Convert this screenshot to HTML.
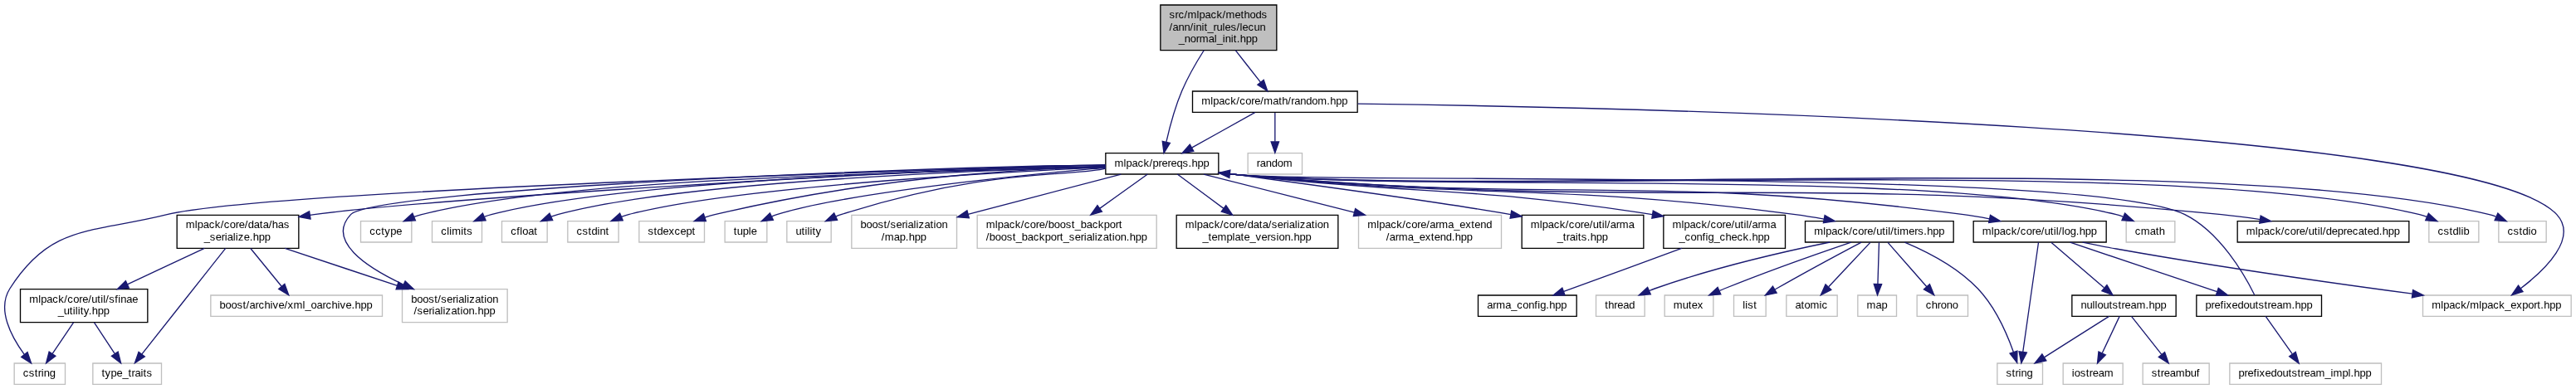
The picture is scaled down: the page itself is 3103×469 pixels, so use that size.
<!DOCTYPE html>
<html><head><meta charset="utf-8"><title>src/mlpack/methods/ann/init_rules/lecun_normal_init.hpp include dependency graph</title>
<style>
html,body{margin:0;padding:0;background:#fff;width:3103px;height:469px;overflow:hidden;}
svg{display:block;}
.e{fill:none;stroke:#191970;stroke-width:1;}
.h{fill:#191970;stroke:#191970;stroke-width:1;}
.t text{font-family:"Liberation Sans",sans-serif;font-size:13px;fill:#000;}
svg{will-change:transform;}
</style></head><body>
<svg width="3103" height="469" viewBox="0 0 3103 469">
<rect width="3103" height="469" fill="#fff"/>
<g transform="matrix(1.333333,0,0,1.333333,5.333333,464)">
<polygon fill="#bfbfbf" stroke="#000" points="1044.38,-302.5 1044.38,-343.5 1149.38,-343.5 1149.38,-302.5 1044.38,-302.5"/>
<polygon fill="#fff" stroke="#000" points="994.88,-190.5 994.88,-209.5 1096.88,-209.5 1096.88,-190.5 994.88,-190.5"/>
<path class="e" d="M1083.64,-302.45C1077,-291.99 1069.25,-278.67 1063.88,-266 1057.44,-250.84 1052.65,-232.72 1049.63,-219.47"/>
<polygon class="h" points="1053.04,-218.69 1047.52,-209.65 1046.2,-220.17 1053.04,-218.69"/>
<polygon fill="#fff" stroke="#000" points="1073.38,-246.5 1073.38,-265.5 1222.38,-265.5 1222.38,-246.5 1073.38,-246.5"/>
<path class="e" d="M1112.18,-302.5C1119.4,-293.3 1127.92,-282.44 1134.83,-273.63"/>
<polygon class="h" points="1137.67,-275.68 1141.09,-265.65 1132.16,-271.36 1137.67,-275.68"/>
<polygon fill="#fff" stroke="#bfbfbf" points="1916.88,-129 1916.88,-148 1960.88,-148 1960.88,-129 1916.88,-129"/>
<path class="e" d="M1097.06,-191.74C1102.73,-191.08 1108.42,-190.48 1113.88,-190 1289.81,-174.4 1736.37,-196.23 1907.88,-154 1909.87,-153.51 1911.88,-152.89 1913.88,-152.18"/>
<polygon class="h" points="1915.68,-155.22 1923.54,-148.12 1912.97,-148.77 1915.68,-155.22"/>
<polygon fill="#fff" stroke="#bfbfbf" points="2190.38,-129 2190.38,-148 2235.38,-148 2235.38,-129 2190.38,-129"/>
<path class="e" d="M1097.06,-191.68C1102.72,-191.03 1108.42,-190.45 1113.88,-190 1350.53,-170.4 1950.97,-209.43 2181.88,-154 2184.08,-153.47 2186.32,-152.78 2188.53,-151.98"/>
<polygon class="h" points="2190.04,-155.14 2197.87,-148 2187.3,-148.7 2190.04,-155.14"/>
<polygon fill="#fff" stroke="#bfbfbf" points="2253.38,-129 2253.38,-148 2296.38,-148 2296.38,-129 2253.38,-129"/>
<path class="e" d="M1097.06,-191.67C1102.72,-191.02 1108.42,-190.45 1113.88,-190 1364.5,-169.48 2000.68,-214.02 2244.88,-154 2246.86,-153.51 2248.86,-152.89 2250.84,-152.17"/>
<polygon class="h" points="2252.61,-155.21 2260.38,-148.01 2249.82,-148.79 2252.61,-155.21"/>
<polygon fill="#fff" stroke="#bfbfbf" points="8.88,-0.5 8.88,-19.5 54.88,-19.5 54.88,-0.5 8.88,-0.5"/>
<path class="e" d="M994.61,-199.05C965.26,-198.47 239.36,-177.17 146.88,-154.00 79.18,-137.04 42.24,-145.94 4.88,-87.00 -7.02,-68.24 6.20,-43.55 17.97,-27.48"/>
<polygon class="h" points="20.78,-29.56 24.19,-19.53 15.27,-25.25 20.78,-29.56"/>
<polygon fill="#fff" stroke="#bfbfbf" points="321.88,-129 321.88,-148 367.88,-148 367.88,-129 321.88,-129"/>
<path class="e" d="M994.61,-197.92C868.13,-191.26 521.55,-190.66 376.88,-154.00 374.67,-153.44 372.42,-152.74 370.19,-151.95"/>
<polygon class="h" points="371.33,-148.63 360.75,-148.04 368.65,-155.1 371.33,-148.63"/>
<polygon fill="#fff" stroke="#bfbfbf" points="386.38,-129 386.38,-148 431.38,-148 431.38,-129 386.38,-129"/>
<path class="e" d="M994.61,-197.55C874.66,-195.72 557.39,-184.71 439.88,-154.00 437.89,-153.48 435.88,-152.84 433.89,-152.12"/>
<polygon class="h" points="434.81,-148.7 424.23,-148.03 432.07,-155.15 434.81,-148.7"/>
<polygon fill="#fff" stroke="#bfbfbf" points="449.38,-129 449.38,-148 490.38,-148 490.38,-129 449.38,-129"/>
<path class="e" d="M994.61,-197.18C972.50,-196.62 624.63,-188.26 499.88,-154.00 497.95,-153.47 496.00,-152.83 494.06,-152.10"/>
<polygon class="h" points="495.28,-148.81 484.72,-148 492.47,-155.22 495.28,-148.81"/>
<polygon fill="#fff" stroke="#bfbfbf" points="508.88,-129 508.88,-148 554.88,-148 554.88,-129 508.88,-129"/>
<path class="e" d="M994.61,-196.80C992.28,-196.51 676.20,-183.64 563.88,-154.00 561.72,-153.43 559.53,-152.72 557.35,-151.94"/>
<polygon class="h" points="558.68,-148.7 548.1,-148.11 556,-155.17 558.68,-148.7"/>
<polygon fill="#fff" stroke="#bfbfbf" points="573.38,-129 573.38,-148 632.38,-148 632.38,-129 573.38,-129"/>
<path class="e" d="M994.61,-196.42C953.07,-196.42 803.67,-192.29 641.88,-154.00 638.88,-153.29 635.80,-152.41 632.75,-151.44"/>
<polygon class="h" points="633.82,-148.11 623.23,-148.14 631.53,-154.72 633.82,-148.11"/>
<polygon fill="#fff" stroke="#bfbfbf" points="650.88,-129 650.88,-148 688.88,-148 688.88,-129 650.88,-129"/>
<path class="e" d="M994.61,-196.05C984.56,-196.05 771.22,-176.95 697.88,-154.00 696.41,-153.54 694.92,-153.01 693.44,-152.42"/>
<polygon class="h" points="694.54,-149.07 684,-148.03 691.59,-155.42 694.54,-149.07"/>
<polygon fill="#fff" stroke="#bfbfbf" points="706.88,-129 706.88,-148 746.88,-148 746.88,-129 706.88,-129"/>
<path class="e" d="M994.61,-195.60C968.17,-188.13 891.10,-197.14 755.88,-154.00 754.25,-153.48 752.61,-152.88 750.97,-152.23"/>
<polygon class="h" points="752.41,-149.04 741.85,-148.09 749.51,-155.41 752.41,-149.04"/>
<polygon fill="#fff" stroke="#bfbfbf" points="359.38,-56.5 359.38,-86.5 454.38,-86.5 454.38,-56.5 359.38,-56.5"/>
<path class="e" d="M994.61,-198.68C865.72,-198.67 335.06,-177.58 312.88,-154.00 290.69,-130.41 326.72,-106.50 360.39,-90.74"/>
<polygon class="h" points="362.1,-93.81 369.78,-86.51 359.22,-87.43 362.1,-93.81"/>
<polygon fill="#fff" stroke="#bfbfbf" points="765.38,-123.5 765.38,-153.5 860.38,-153.5 860.38,-123.5 765.38,-123.5"/>
<path class="e" d="M1008.82,-190.48C973.08,-181.03 914.03,-165.65 870.60,-154.24"/>
<polygon class="h" points="869.71,-157.63 860.93,-151.70 871.49,-150.85 869.71,-157.63"/>
<polygon fill="#fff" stroke="#bfbfbf" points="878.88,-123.5 878.88,-153.5 1040.88,-153.5 1040.88,-123.5 878.88,-123.5"/>
<path class="e" d="M1032.80,-190.48C1021.66,-182.42 1004.24,-170.02 989.50,-159.47"/>
<polygon class="h" points="987.46,-162.32 981.37,-153.65 991.54,-156.62 987.46,-162.32"/>
<polygon fill="#fff" stroke="#000" points="155.88,-123.5 155.88,-153.5 265.88,-153.5 265.88,-123.5 155.88,-123.5"/>
<path class="e" d="M994.61,-198.30C877.03,-197.78 396.30,-169.58 279.88,-154.00 278.61,-153.83 277.34,-153.65 276.06,-153.46"/>
<polygon class="h" points="276.54,-150 266.11,-151.86 275.43,-156.91 276.54,-150"/>
<polygon fill="#fff" stroke="#000" points="1058.88,-123.5 1058.88,-153.5 1204.88,-153.5 1204.88,-123.5 1058.88,-123.5"/>
<path class="e" d="M1059.70,-190.48C1070.35,-182.42 1087.26,-170.02 1101.51,-159.47"/>
<polygon class="h" points="1099.43,-156.66 1109.55,-153.52 1103.59,-162.28 1099.43,-156.66"/>
<polygon fill="#fff" stroke="#bfbfbf" points="1223.38,-123.5 1223.38,-153.5 1352.38,-153.5 1352.38,-123.5 1223.38,-123.5"/>
<path class="e" d="M1083.47,-190.48C1118.56,-181.49 1175.53,-167.13 1219.62,-155.93"/>
<polygon class="h" points="1218.75,-152.54 1229.31,-153.47 1220.48,-159.32 1218.75,-152.54"/>
<polygon fill="#fff" stroke="#000" points="1370.88,-123.5 1370.88,-153.5 1480.88,-153.5 1480.88,-123.5 1370.88,-123.5"/>
<path class="e" d="M1097.08,-192.22C1169.1,-182.61 1297.72,-165.12 1360.86,-154.07"/>
<polygon class="h" points="1361.55,-157.5 1370.78,-152.28 1360.32,-150.61 1361.55,-157.5"/>
<polygon fill="#fff" stroke="#000" points="1498.88,-123.5 1498.88,-153.5 1608.88,-153.5 1608.88,-123.5 1498.88,-123.5"/>
<path class="e" d="M1097.09,-192.02C1102.75,-191.31 1108.43,-190.62 1113.88,-190 1277.41,-171.35 1322.38,-180.24 1488.72,-154.05"/>
<polygon class="h" points="1489.48,-157.47 1498.81,-152.45 1488.38,-150.56 1489.48,-157.47"/>
<polygon fill="#fff" stroke="#000" points="1778.88,-129 1778.88,-148 1898.88,-148 1898.88,-129 1778.88,-129"/>
<path class="e" d="M1097.07,-191.8C1102.73,-191.13 1108.42,-190.51 1113.88,-190 1404.6,-162.82 1480.38,-192.14 1769.88,-154 1777.47,-153 1785.48,-151.62 1793.24,-150.11"/>
<polygon class="h" points="1794.14,-153.5 1803.24,-148.07 1792.74,-146.64 1794.14,-153.5"/>
<polygon fill="#fff" stroke="#000" points="1626.88,-129 1626.88,-148 1760.88,-148 1760.88,-129 1626.88,-129"/>
<path class="e" d="M1097.08,-191.89C1102.74,-191.2 1108.43,-190.55 1113.88,-190 1337.29,-167.26 1395.2,-183.09 1617.88,-154 1626.3,-152.9 1635.2,-151.46 1643.83,-149.91"/>
<polygon class="h" points="1644.6,-153.33 1653.79,-148.06 1643.32,-146.45 1644.6,-153.33"/>
<polygon fill="#fff" stroke="#000" points="2017.38,-129 2017.38,-148 2172.38,-148 2172.38,-129 2017.38,-129"/>
<path class="e" d="M1097.06,-191.72C1102.73,-191.06 1108.42,-190.47 1113.88,-190 1507.85,-156.02 1609.35,-192.85 2002.88,-154 2014.2,-152.88 2026.25,-151.28 2037.78,-149.55"/>
<polygon class="h" points="2038.39,-153 2047.74,-148 2037.32,-146.08 2038.39,-153"/>
<path class="e" d="M253.41,-123.4C283.2,-113.52 323.19,-100.25 354.88,-89.74"/>
<polygon class="h" points="356.04,-93.05 364.43,-86.58 353.84,-86.4 356.04,-93.05"/>
<polygon fill="#fff" stroke="#000" points="14.38,-56.5 14.38,-86.5 129.38,-86.5 129.38,-56.5 14.38,-56.5"/>
<path class="e" d="M180.72,-123.4C160.31,-113.86 133.17,-101.16 111.1,-90.84"/>
<polygon class="h" points="112.52,-87.64 101.98,-86.58 109.55,-93.98 112.52,-87.64"/>
<polygon fill="#fff" stroke="#bfbfbf" points="79.88,-0.5 79.88,-19.5 141.88,-19.5 141.88,-0.5 79.88,-0.5"/>
<path class="e" d="M199.79,-123.48C181.23,-100 143.95,-52.84 124.07,-27.69"/>
<polygon class="h" points="126.77,-25.46 117.82,-19.79 121.28,-29.8 126.77,-25.46"/>
<polygon fill="#fff" stroke="#bfbfbf" points="186.38,-62 186.38,-81 341.38,-81 341.38,-62 186.38,-62"/>
<path class="e" d="M222.38,-123.4C230.56,-113.36 241.59,-99.84 250.22,-89.25"/>
<polygon class="h" points="253.18,-91.16 256.79,-81.19 247.76,-86.73 253.18,-91.16"/>
<path class="e" d="M62.4,-56.4C56.7,-47.93 49.42,-37.1 43.4,-28.14"/>
<polygon class="h" points="46.18,-26 37.7,-19.66 40.37,-29.91 46.18,-26"/>
<path class="e" d="M81.12,-56.4C86.67,-47.93 93.77,-37.1 99.64,-28.14"/>
<polygon class="h" points="102.65,-29.94 105.2,-19.66 96.79,-26.1 102.65,-29.94"/>
<polygon fill="#fff" stroke="#000" points="1331.38,-62 1331.38,-81 1420.38,-81 1420.38,-62 1331.38,-62"/>
<path class="e" d="M1515.25,-123.4C1483.47,-111.79 1438.9,-95.51 1408.79,-84.52"/>
<polygon class="h" points="1409.77,-81.15 1399.17,-81.01 1407.37,-87.72 1409.77,-81.15"/>
<polygon fill="#fff" stroke="#bfbfbf" points="1800.38,-0.5 1800.38,-19.5 1841.38,-19.5 1841.38,-0.5 1800.38,-0.5"/>
<path class="e" d="M1837.64,-128.81C1834.75,-108.49 1827.5,-57.55 1823.55,-29.78"/>
<polygon class="h" points="1827,-29.16 1822.12,-19.76 1820.07,-30.15 1827,-29.16"/>
<polygon fill="#fff" stroke="#000" points="1867.88,-62 1867.88,-81 1961.88,-81 1961.88,-62 1867.88,-62"/>
<path class="e" d="M1849.13,-128.73C1861.32,-118.31 1881.89,-100.71 1896.78,-87.97"/>
<polygon class="h" points="1899.46,-90.29 1904.79,-81.13 1894.91,-84.97 1899.46,-90.29"/>
<polygon fill="#fff" stroke="#bfbfbf" points="2184.88,-62 2184.88,-81 2318.88,-81 2318.88,-62 2184.88,-62"/>
<path class="e" d="M1877.48,-128.95C1887.36,-126.88 1897.99,-124.76 1907.88,-123 1999.49,-106.67 2105.52,-91.69 2175.37,-82.36"/>
<polygon class="h" points="2175.96,-85.81 2185.41,-81.03 2175.04,-78.87 2175.96,-85.81"/>
<polygon fill="#fff" stroke="#000" points="1980.38,-62 1980.38,-81 2093.38,-81 2093.38,-62 1980.38,-62"/>
<path class="e" d="M1866.2,-128.87C1900.8,-117.4 1960.2,-97.09 1998.9,-84.24"/>
<polygon class="h" points="2000.18,-87.51 2008.59,-81.06 1998.0,-80.86 2000.18,-87.51"/>
<path class="e" d="M1901.41,-61.98C1886.19,-52.34 1861.19,-36.52 1843.08,-25.05"/>
<polygon class="h" points="1844.64,-21.9 1834.32,-19.51 1840.9,-27.81 1844.64,-21.9"/>
<polygon fill="#fff" stroke="#bfbfbf" points="1859.88,-0.5 1859.88,-19.5 1913.88,-19.5 1913.88,-0.5 1859.88,-0.5"/>
<path class="e" d="M1910.86,-61.98C1906.79,-53.32 1900.36,-39.65 1895.18,-28.65"/>
<polygon class="h" points="1898.31,-27.07 1890.88,-19.51 1891.97,-30.05 1898.31,-27.07"/>
<polygon fill="#fff" stroke="#bfbfbf" points="1931.88,-0.5 1931.88,-19.5 1991.88,-19.5 1991.88,-0.5 1931.88,-0.5"/>
<path class="e" d="M1921.61,-61.98C1928.66,-53.05 1939.91,-38.81 1948.73,-27.64"/>
<polygon class="h" points="1951.7,-29.53 1955.15,-19.51 1946.21,-25.19 1951.7,-29.53"/>
<path class="e" d="M2032.86,-81.19C2024.21,-98.72 2002.01,-137.99 1969.88,-154 1884.68,-196.46 1208.71,-181.75 1113.88,-190 1111.66,-190.19 1109.4,-190.41 1107.13,-190.63"/>
<polygon class="h" points="1106.63,-187.17 1097.06,-191.73 1107.38,-194.13 1106.63,-187.17"/>
<polygon fill="#fff" stroke="#bfbfbf" points="2010.38,-0.5 2010.38,-19.5 2147.38,-19.5 2147.38,-0.5 2010.38,-0.5"/>
<path class="e" d="M2042.89,-61.98C2049.13,-53.14 2059.05,-39.09 2066.89,-27.98"/>
<polygon class="h" points="2069.96,-29.7 2072.87,-19.51 2064.24,-25.66 2069.96,-29.7"/>
<path class="e" d="M1716.8,-128.97C1736.4,-120.72 1764.29,-106.59 1782.88,-87 1798.54,-70.5 1809.12,-46.3 1815.06,-29.66"/>
<polygon class="h" points="1818.44,-30.57 1818.3,-19.98 1811.81,-28.35 1818.44,-30.57"/>
<polygon fill="#fff" stroke="#bfbfbf" points="1674.38,-62 1674.38,-81 1709.38,-81 1709.38,-62 1674.38,-62"/>
<path class="e" d="M1693.61,-128.73C1693.31,-119.18 1692.83,-103.62 1692.45,-91.28"/>
<polygon class="h" points="1695.95,-91.01 1692.14,-81.13 1688.95,-91.23 1695.95,-91.01"/>
<polygon fill="#fff" stroke="#bfbfbf" points="1727.88,-62 1727.88,-81 1773.88,-81 1773.88,-62 1727.88,-62"/>
<path class="e" d="M1701.56,-128.73C1710.54,-118.5 1725.56,-101.36 1736.68,-88.69"/>
<polygon class="h" points="1739.35,-90.95 1743.31,-81.13 1734.09,-86.34 1739.35,-90.95"/>
<polygon fill="#fff" stroke="#bfbfbf" points="1437.88,-62 1437.88,-81 1481.88,-81 1481.88,-62 1437.88,-62"/>
<path class="e" d="M1649.19,-128.99C1607.57,-120.45 1544.1,-105.87 1490.88,-87 1489.26,-86.43 1487.61,-85.8 1485.96,-85.13"/>
<polygon class="h" points="1487.25,-81.88 1476.68,-81.08 1484.45,-88.29 1487.25,-81.88"/>
<polygon fill="#fff" stroke="#bfbfbf" points="1499.88,-62 1499.88,-81 1543.88,-81 1543.88,-62 1499.88,-62"/>
<path class="e" d="M1668.36,-128.98C1640.12,-119.38 1593.38,-103.04 1553.88,-87 1552.46,-86.43 1551.02,-85.83 1549.57,-85.21"/>
<polygon class="h" points="1550.61,-81.84 1540.04,-81.03 1547.8,-88.25 1550.61,-81.84"/>
<polygon fill="#fff" stroke="#bfbfbf" points="1562.38,-62 1562.38,-81 1591.38,-81 1591.38,-62 1562.38,-62"/>
<path class="e" d="M1677.62,-128.97C1658.96,-119.1 1627.5,-102.26 1600.88,-87 1600.46,-86.76 1600.05,-86.52 1599.63,-86.28"/>
<polygon class="h" points="1601.16,-83.12 1590.77,-81.04 1597.6,-89.15 1601.16,-83.12"/>
<polygon fill="#fff" stroke="#bfbfbf" points="1609.88,-62 1609.88,-81 1655.88,-81 1655.88,-62 1609.88,-62"/>
<path class="e" d="M1685.65,-128.73C1676.05,-118.5 1659.96,-101.36 1648.07,-88.69"/>
<polygon class="h" points="1650.37,-86.02 1640.97,-81.13 1645.26,-90.81 1650.37,-86.02"/>
<path class="e" d="M1129.77,-246.32C1114.56,-237.70 1090.43,-224.36 1072.66,-214.39"/>
<polygon class="h" points="1070.95,-217.44 1063.94,-209.50 1074.37,-211.34 1070.95,-217.44"/>
<path class="e" d="M1222.68,-254.2C1467.4,-250.81 2232.67,-233.87 2305.88,-154 2325.2,-132.92 2295.7,-104.29 2273.27,-87.17"/>
<polygon class="h" points="2275.27,-84.3 2265.14,-81.22 2271.14,-89.95 2275.27,-84.3"/>
<polygon fill="#fff" stroke="#bfbfbf" points="1123.38,-190.5 1123.38,-209.5 1172.38,-209.5 1172.38,-190.5 1123.38,-190.5"/>
<path class="e" d="M1147.88,-246.08C1147.88,-239.01 1147.88,-228.86 1147.88,-219.99"/>
<polygon class="h" points="1151.38,-219.75 1147.88,-209.75 1144.38,-219.75 1151.38,-219.75"/>
</g>
<g class="t">
<text x="1408.50 1415.50 1419.50 1426.50 1430.50 1441.50 1444.50 1451.50 1458.50 1465.50 1472.50 1476.50 1487.50 1494.50 1498.50 1505.50 1512.50 1519.50" y="22.00">src/mlpack/methods</text>
<text x="1408.50 1412.50 1419.50 1426.50 1433.50 1437.50 1440.50 1447.50 1450.50 1454.50 1461.50 1465.50 1472.50 1475.50 1482.50 1489.50 1493.50 1496.50 1503.50 1510.50 1517.50" y="36.67">/ann/init_rules/lecun</text>
<text x="1419.84 1426.84 1433.84 1440.84 1444.84 1455.84 1462.84 1465.84 1472.84 1475.84 1482.84 1485.84 1489.84 1493.84 1500.84 1507.84" y="51.33">_normal_init.hpp</text>
<text x="1342.50 1353.50 1356.50 1363.50 1370.50 1377.50 1384.50 1388.50 1395.50 1399.50 1406.50 1410.50 1417.50 1424.50 1431.50 1435.50 1442.50 1449.50" y="200.67">mlpack/prereqs.hpp</text>
<text x="1447.17 1458.17 1461.17 1468.17 1475.17 1482.17 1489.17 1493.17 1500.17 1507.17 1511.17 1518.17 1522.17 1533.17 1540.17 1544.17 1551.17 1555.17 1559.17 1566.17 1573.17 1580.17 1587.17 1598.17 1602.17 1609.17 1616.17" y="126.00">mlpack/core/math/random.hpp</text>
<text x="2571.84 2578.84 2589.84 2596.84 2600.84" y="282.67">cmath</text>
<text x="2936.50 2943.50 2950.50 2954.50 2961.50 2964.50 2967.50" y="282.67">cstdlib</text>
<text x="3020.50 3027.50 3034.50 3038.50 3045.50 3048.50" y="282.67">cstdio</text>
<text x="27.84 34.84 41.84 45.84 49.84 52.84 59.84" y="454.00">cstring</text>
<text x="445.17 452.17 459.17 463.17 470.17 477.17" y="282.67">cctype</text>
<text x="531.17 538.17 541.17 544.17 555.17 558.17 562.17" y="282.67">climits</text>
<text x="615.17 622.17 626.17 629.17 636.17 643.17" y="282.67">cfloat</text>
<text x="694.50 701.50 708.50 712.50 719.50 722.50 729.50" y="282.67">cstdint</text>
<text x="780.50 787.50 791.50 798.50 805.50 812.50 819.50 826.50 833.50" y="282.67">stdexcept</text>
<text x="883.84 887.84 894.84 901.84 904.84" y="282.67">tuple</text>
<text x="958.50 965.50 969.50 972.50 975.50 978.50 982.50" y="282.67">utility</text>
<text x="495.17 502.17 509.17 516.17 523.17 527.17 531.17 538.17 545.17 549.17 552.17 559.17 562.17 565.17 572.17 579.17 583.17 586.17 593.17" y="364.67">boost/serialization</text>
<text x="498.50 502.50 509.50 516.50 520.50 523.50 530.50 533.50 536.50 543.50 550.50 554.50 557.50 564.50 571.50 575.50 582.50 589.50" y="379.33">/serialization.hpp</text>
<text x="1036.50 1043.50 1050.50 1057.50 1064.50 1068.50 1072.50 1079.50 1086.50 1090.50 1093.50 1100.50 1103.50 1106.50 1113.50 1120.50 1124.50 1127.50 1134.50" y="275.33">boost/serialization</text>
<text x="1061.84 1065.84 1076.84 1083.84 1090.84 1094.84 1101.84 1108.84" y="290.00">/map.hpp</text>
<text x="1187.84 1198.84 1201.84 1208.84 1215.84 1222.84 1229.84 1233.84 1240.84 1247.84 1251.84 1258.84 1262.84 1269.84 1276.84 1283.84 1290.84 1294.84 1301.84 1308.84 1315.84 1322.84 1329.84 1336.84 1343.84 1347.84" y="275.33">mlpack/core/boost_backport</text>
<text x="1187.84 1191.84 1198.84 1205.84 1212.84 1219.84 1223.84 1230.84 1237.84 1244.84 1251.84 1258.84 1265.84 1272.84 1276.84 1280.84 1287.84 1294.84 1301.84 1305.84 1308.84 1315.84 1318.84 1321.84 1328.84 1335.84 1339.84 1342.84 1349.84 1356.84 1360.84 1367.84 1374.84" y="290.00">/boost_backport_serialization.hpp</text>
<text x="223.84 234.84 237.84 244.84 251.84 258.84 265.84 269.84 276.84 283.84 287.84 294.84 298.84 305.84 312.84 316.84 323.84 327.84 334.84 341.84" y="275.33">mlpack/core/data/has</text>
<text x="245.84 252.84 259.84 266.84 270.84 273.84 280.84 283.84 286.84 293.84 300.84 304.84 311.84 318.84" y="290.00">_serialize.hpp</text>
<text x="1427.84 1438.84 1441.84 1448.84 1455.84 1462.84 1469.84 1473.84 1480.84 1487.84 1491.84 1498.84 1502.84 1509.84 1516.84 1520.84 1527.84 1531.84 1538.84 1545.84 1549.84 1552.84 1559.84 1562.84 1565.84 1572.84 1579.84 1583.84 1586.84 1593.84" y="275.33">mlpack/core/data/serialization</text>
<text x="1448.50 1455.50 1459.50 1466.50 1477.50 1484.50 1487.50 1494.50 1498.50 1505.50 1512.50 1519.50 1526.50 1530.50 1537.50 1540.50 1547.50 1554.50 1558.50 1565.50 1572.50" y="290.00">_template_version.hpp</text>
<text x="1647.17 1658.17 1661.17 1668.17 1675.17 1682.17 1689.17 1693.17 1700.17 1707.17 1711.17 1718.17 1722.17 1729.17 1733.17 1744.17 1751.17 1758.17 1765.17 1772.17 1776.17 1783.17 1790.17" y="275.33">mlpack/core/arma_extend</text>
<text x="1669.84 1673.84 1680.84 1684.84 1695.84 1702.84 1709.84 1716.84 1723.84 1727.84 1734.84 1741.84 1748.84 1752.84 1759.84 1766.84" y="290.00">/arma_extend.hpp</text>
<text x="1843.84 1854.84 1857.84 1864.84 1871.84 1878.84 1885.84 1889.84 1896.84 1903.84 1907.84 1914.84 1918.84 1925.84 1929.84 1932.84 1935.84 1939.84 1946.84 1950.84 1961.84" y="275.33">mlpack/core/util/arma</text>
<text x="1875.84 1882.84 1886.84 1890.84 1897.84 1900.84 1904.84 1911.84 1915.84 1922.84 1929.84" y="290.00">_traits.hpp</text>
<text x="2014.50 2025.50 2028.50 2035.50 2042.50 2049.50 2056.50 2060.50 2067.50 2074.50 2078.50 2085.50 2089.50 2096.50 2100.50 2103.50 2106.50 2110.50 2117.50 2121.50 2132.50" y="275.33">mlpack/core/util/arma</text>
<text x="2022.50 2029.50 2036.50 2043.50 2050.50 2054.50 2057.50 2064.50 2071.50 2078.50 2085.50 2092.50 2099.50 2106.50 2110.50 2117.50 2124.50" y="290.00">_config_check.hpp</text>
<text x="2387.84 2398.84 2401.84 2408.84 2415.84 2422.84 2429.84 2433.84 2440.84 2447.84 2451.84 2458.84 2462.84 2469.84 2473.84 2476.84 2479.84 2483.84 2486.84 2493.84 2500.84 2504.84 2511.84 2518.84" y="282.67">mlpack/core/util/log.hpp</text>
<text x="2185.17 2196.17 2199.17 2206.17 2213.17 2220.17 2227.17 2231.17 2238.17 2245.17 2249.17 2256.17 2260.17 2267.17 2271.17 2274.17 2277.17 2281.17 2285.17 2288.17 2299.17 2306.17 2310.17 2317.17 2321.17 2328.17 2335.17" y="282.67">mlpack/core/util/timers.hpp</text>
<text x="2705.84 2716.84 2719.84 2726.84 2733.84 2740.84 2747.84 2751.84 2758.84 2765.84 2769.84 2776.84 2780.84 2787.84 2791.84 2794.84 2797.84 2801.84 2808.84 2815.84 2822.84 2826.84 2833.84 2840.84 2847.84 2851.84 2858.84 2865.84 2869.84 2876.84 2883.84" y="282.67">mlpack/core/util/deprecated.hpp</text>
<text x="35.17 46.17 49.17 56.17 63.17 70.17 77.17 81.17 88.17 95.17 99.17 106.17 110.17 117.17 121.17 124.17 127.17 131.17 138.17 142.17 145.17 152.17 159.17" y="364.67">mlpack/core/util/sfinae</text>
<text x="69.84 76.84 83.84 87.84 90.84 93.84 96.84 100.84 106.84 110.84 117.84 124.84" y="379.33">_utility.hpp</text>
<text x="122.50 126.50 133.50 140.50 147.50 154.50 158.50 162.50 169.50 172.50 176.50" y="454.00">type_traits</text>
<text x="264.50 271.50 278.50 285.50 292.50 296.50 300.50 307.50 311.50 318.50 325.50 328.50 335.50 342.50 346.50 353.50 364.50 367.50 374.50 381.50 388.50 392.50 399.50 406.50 409.50 416.50 423.50 427.50 434.50 441.50" y="372.00">boost/archive/xml_oarchive.hpp</text>
<text x="1791.17 1798.17 1802.17 1813.17 1820.17 1827.17 1834.17 1841.17 1848.17 1852.17 1855.17 1862.17 1866.17 1873.17 1880.17" y="372.00">arma_config.hpp</text>
<text x="2416.50 2423.50 2427.50 2431.50 2434.50 2441.50" y="454.00">string</text>
<text x="2506.50 2513.50 2520.50 2523.50 2526.50 2533.50 2540.50 2544.50 2551.50 2555.50 2559.50 2566.50 2573.50 2584.50 2588.50 2595.50 2602.50" y="372.00">nulloutstream.hpp</text>
<text x="2929.17 2940.17 2943.17 2950.17 2957.17 2964.17 2971.17 2975.17 2986.17 2989.17 2996.17 3003.17 3010.17 3017.17 3024.17 3031.17 3038.17 3045.17 3052.17 3056.17 3060.17 3064.17 3071.17 3078.17" y="372.00">mlpack/mlpack_export.hpp</text>
<text x="2656.50 2663.50 2667.50 2674.50 2678.50 2681.50 2688.50 2695.50 2702.50 2709.50 2716.50 2720.50 2727.50 2731.50 2735.50 2742.50 2749.50 2760.50 2764.50 2771.50 2778.50" y="372.00">prefixedoutstream.hpp</text>
<text x="2495.84 2498.84 2505.84 2512.84 2516.84 2520.84 2527.84 2534.84" y="454.00">iostream</text>
<text x="2591.84 2598.84 2602.84 2606.84 2613.84 2620.84 2631.84 2638.84 2645.84" y="454.00">streambuf</text>
<text x="2696.50 2703.50 2707.50 2714.50 2718.50 2721.50 2728.50 2735.50 2742.50 2749.50 2756.50 2760.50 2767.50 2771.50 2775.50 2782.50 2789.50 2800.50 2807.50 2810.50 2821.50 2828.50 2831.50 2835.50 2842.50 2849.50" y="454.00">prefixedoutstream_impl.hpp</text>
<text x="2248.50 2259.50 2266.50" y="372.00">map</text>
<text x="2319.84 2326.84 2333.84 2337.84 2344.84 2351.84" y="372.00">chrono</text>
<text x="1933.17 1937.17 1944.17 1948.17 1955.17 1962.17" y="372.00">thread</text>
<text x="2015.84 2026.84 2033.84 2037.84 2044.84" y="372.00">mutex</text>
<text x="2099.17 2102.17 2105.17 2112.17" y="372.00">list</text>
<text x="2162.50 2169.50 2173.50 2180.50 2191.50 2194.50" y="372.00">atomic</text>
<text x="1513.84 1517.84 1524.84 1531.84 1538.84 1545.84" y="200.67">random</text>
</g>
</svg>
</body></html>
